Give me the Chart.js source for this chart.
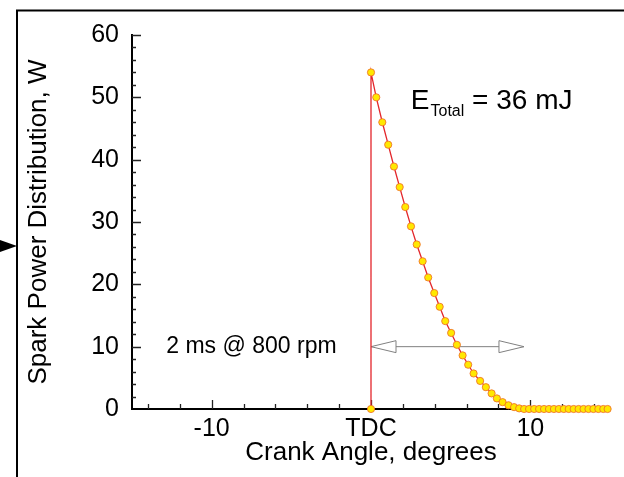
<!DOCTYPE html>
<html>
<head>
<meta charset="utf-8">
<script src="https://cdn.jsdelivr.net/npm/chart.js@4.4.1/dist/chart.umd.min.js"></script>
<style>
  html, body { margin: 0; padding: 0; background: #fff; }
</style>
</head>
<body>
<canvas id="sparkChart" width="624" height="477"></canvas>
<script>
// Spark power vs crank angle
const crankAngle = [0, 0, 0.33, 0.71, 1.08, 1.44, 1.80, 2.15, 2.51, 2.87, 3.24, 3.59, 3.97, 4.31, 4.66,
  5.03, 5.39, 5.75, 6.10, 6.44, 6.85, 7.21, 7.57, 7.90, 8.26, 8.63, 8.98, 9.30,
  9.61, 9.92, 10.24, 10.55, 10.86, 11.17, 11.48, 11.79, 12.10, 12.41, 12.72, 13.03, 13.34, 13.65, 13.96, 14.27, 14.58, 14.85];
const sparkPower = [0, 54, 50, 46, 42.4, 38.9, 35.6, 32.4, 29.3, 26.4, 23.7, 21.1, 18.6, 16.4, 14.1,
  12.2, 10.3, 8.6, 7.1, 5.7, 4.5, 3.5, 2.5, 1.7, 1.1, 0.6, 0.3, 0.1,
  0, 0, 0, 0, 0, 0, 0, 0, 0, 0, 0, 0, 0, 0, 0, 0, 0, 0];

const xTicks = [-10, 0, 10];
const xTickLabels = ['-10', 'TDC', '10'];
const yTicks = [0, 10, 20, 30, 40, 50, 60];
const minorStep = 2;

// annotations
const energyText = ['E', 'Total', ' = 36 mJ'];
const energyAt = [2.5, 48.2];
const durationText = '2 ms @ 800 rpm';
const durationTextAt = [-12.85, 10];
const arrowFrom = 0, arrowTo = 9.6, arrowAt = 10;

const FONT = "'Liberation Sans', Arial, Helvetica, sans-serif";

function drawHead(ctx, tipX, y, dir) {
  ctx.beginPath();
  ctx.moveTo(tipX, y);
  ctx.lineTo(tipX + dir * 25, y - 6);
  ctx.lineTo(tipX + dir * 25, y + 6);
  ctx.closePath();
  ctx.fillStyle = '#fff';
  ctx.fill();
  ctx.stroke();
}

const decor = {
  id: 'decor',
  beforeDatasetsDraw(chart) {
    const { ctx, chartArea: a, scales: { x, y } } = chart;
    ctx.save();
    // inward ticks
    ctx.strokeStyle = '#222';
    ctx.lineWidth = 1.3;
    ctx.beginPath();
    for (let v = x.min + 1; v < x.max; v += minorStep) {
      const px = Math.round(x.getPixelForValue(v)) + 0.5;
      const len = xTicks.includes(v) ? 9 : 5;
      ctx.moveTo(px, a.bottom);
      ctx.lineTo(px, a.bottom - len);
    }
    for (let v = y.min + minorStep; v <= y.max; v += minorStep) {
      const py = Math.round(y.getPixelForValue(v)) + 0.5;
      const len = yTicks.includes(v) ? 9 : 4;
      ctx.moveTo(a.left, py);
      ctx.lineTo(a.left + len, py);
    }
    ctx.stroke();

    // duration arrow
    const ay = y.getPixelForValue(arrowAt);
    const ax0 = x.getPixelForValue(arrowFrom);
    const ax1 = x.getPixelForValue(arrowTo);
    ctx.strokeStyle = '#808080';
    ctx.lineWidth = 1;
    ctx.beginPath();
    ctx.moveTo(ax0, ay);
    ctx.lineTo(ax1, ay);
    ctx.stroke();
    drawHead(ctx, ax0, ay, 1);
    drawHead(ctx, ax1, ay, -1);

    ctx.fillStyle = '#000';
    ctx.font = '23px ' + FONT;
    ctx.textBaseline = 'middle';
    ctx.textAlign = 'left';
    ctx.fillText(durationText, x.getPixelForValue(durationTextAt[0]), y.getPixelForValue(durationTextAt[1]));

    // energy label with subscript
    let ex = x.getPixelForValue(energyAt[0]);
    const ey = y.getPixelForValue(energyAt[1]);
    ctx.textBaseline = 'alphabetic';
    ctx.font = '28px ' + FONT;
    ctx.fillText(energyText[0], ex, ey);
    ex += ctx.measureText(energyText[0]).width + 1;
    ctx.font = '16px ' + FONT;
    ctx.fillText(energyText[1], ex, ey + 7);
    ex += ctx.measureText(energyText[1]).width;
    ctx.font = '28px ' + FONT;
    ctx.fillText(energyText[2], ex, ey);
    ctx.restore();
  },
  afterDraw(chart) {
    const { ctx } = chart;
    ctx.save();
    // frame and pointer on the left
    ctx.strokeStyle = '#000';
    ctx.lineWidth = 2;
    ctx.beginPath();
    ctx.moveTo(17, 477);
    ctx.lineTo(17, 10.5);
    ctx.lineTo(624, 10.5);
    ctx.stroke();
    ctx.fillStyle = '#000';
    ctx.beginPath();
    ctx.moveTo(17, 246);
    ctx.lineTo(0, 240);
    ctx.lineTo(0, 252);
    ctx.closePath();
    ctx.fill();
    ctx.restore();
  }
};

new Chart(document.getElementById('sparkChart'), {
  type: 'line',
  data: {
    datasets: [{
      data: crankAngle.map((a, i) => ({ x: a, y: sparkPower[i] })),
      borderColor: '#e3262b',
      borderWidth: 1.3,
      pointRadius: 3.6,
      pointBackgroundColor: '#ffe800',
      pointBorderColor: 'rgba(240,110,40,0.85)',
      pointBorderWidth: 1,
      tension: 0,
      clip: false
    }]
  },
  options: {
    responsive: false,
    animation: false,
    devicePixelRatio: 1,
    layout: { padding: { left: 18, right: 14, top: 35, bottom: 0 } },
    plugins: { legend: { display: false }, tooltip: { enabled: false } },
    scales: {
      x: {
        type: 'linear',
        min: -15, max: 15,
        afterBuildTicks: s => { s.ticks = xTicks.map(v => ({ value: v })); },
        afterFit: s => { s.height = 68; },
        ticks: {
          callback: v => xTickLabels[xTicks.indexOf(v)],
          font: { family: FONT, size: 25 }, color: '#000', padding: 5,
          maxRotation: 0, autoSkip: false
        },
        grid: { drawOnChartArea: false, drawTicks: false },
        border: { color: '#000', width: 2 },
        title: {
          display: true, text: 'Crank Angle, degrees',
          font: { family: FONT, size: 26 }, color: '#000',
          padding: { top: 0, bottom: 9 }
        }
      },
      y: {
        min: 0, max: 60,
        afterBuildTicks: s => { s.ticks = yTicks.map(v => ({ value: v })); },
        afterFit: s => { s.width = 114; },
        ticks: { font: { family: FONT, size: 25 }, color: '#000', padding: 13 },
        grid: { drawOnChartArea: false, drawTicks: false },
        border: { color: '#000', width: 2 },
        title: {
          display: true, text: 'Spark Power Distribution, W',
          font: { family: FONT, size: 26 }, color: '#000',
          padding: { top: 5, bottom: 0 }
        }
      }
    }
  },
  plugins: [decor]
});
</script>
</body>
</html>
